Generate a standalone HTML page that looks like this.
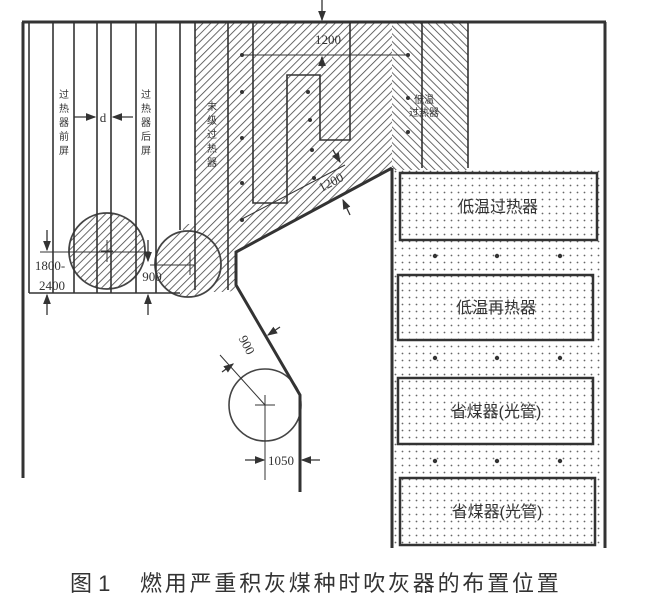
<!DOCTYPE html>
<html><head><meta charset="utf-8"><style>
html,body{margin:0;padding:0;background:#fff;}
svg{display:block;}
text{font-family:"Liberation Serif","Noto Sans CJK SC",serif;fill:#333;}
.cj{font-family:"Liberation Sans","Noto Sans CJK SC",sans-serif;}
</style></head><body>
<svg width="662" height="611" viewBox="0 0 662 611" xmlns="http://www.w3.org/2000/svg">
<defs>
<pattern id="h1" width="5.5" height="5.5" patternUnits="userSpaceOnUse" patternTransform="rotate(45)">
<rect width="6" height="6" fill="#fff"/><line x1="0" y1="0" x2="0" y2="6" stroke="#444" stroke-width="1.6"/></pattern>
<pattern id="h2" width="5.5" height="5.5" patternUnits="userSpaceOnUse" patternTransform="rotate(-45)">
<rect width="6" height="6" fill="#fff"/><line x1="0" y1="0" x2="0" y2="6" stroke="#444" stroke-width="1.6"/></pattern>
<pattern id="dt" width="7" height="7" patternUnits="userSpaceOnUse">
<rect width="7" height="7" fill="#fff"/><circle cx="3.5" cy="3.5" r="0.9" fill="#666"/></pattern>
<marker id="ar" markerWidth="8" markerHeight="8" refX="7" refY="4" orient="auto"><path d="M0,1 L8,4 L0,7 Z" fill="#333"/></marker>
</defs>
<path d="M195,22 L392,22 L392,168 L236,252 L236,282 Q236,292 226,292 L205,292 Q195,292 195,282 Z" fill="url(#h1)"/>
<rect x="183" y="224" width="12" height="68" fill="url(#h1)"/>
<rect x="392" y="22" width="76" height="148" fill="url(#h2)"/>
<rect x="392" y="170" width="213" height="378" fill="url(#dt)"/>
<circle cx="107" cy="251" r="38" fill="url(#h1)" stroke="#444" stroke-width="1.8"/>
<circle cx="188" cy="264" r="33" fill="url(#h1)" stroke="#444" stroke-width="1.8"/>
<circle cx="265" cy="405" r="36" fill="none" stroke="#444" stroke-width="1.6"/>
<g stroke="#333" fill="none">
<line x1="22" y1="22" x2="606" y2="22" stroke-width="3"/>
<line x1="23" y1="22" x2="23" y2="478" stroke-width="3"/>
<line x1="605" y1="22" x2="605" y2="548" stroke-width="3"/>
<line x1="392" y1="168" x2="392" y2="548" stroke-width="3"/>
<polyline points="392,168 236,252 236,285 300,395 300,492" stroke-width="3"/>
<g stroke-width="1.6">
<line x1="29" y1="22" x2="29" y2="293"/>
<line x1="53" y1="22" x2="53" y2="293"/>
<line x1="74" y1="22" x2="74" y2="293"/>
<line x1="97" y1="22" x2="97" y2="293"/>
<line x1="111" y1="22" x2="111" y2="293"/>
<line x1="136" y1="22" x2="136" y2="293"/>
<line x1="156" y1="22" x2="156" y2="293"/>
<line x1="180" y1="22" x2="180" y2="230"/>
<line x1="195" y1="22" x2="195" y2="290"/>
<line x1="29" y1="293" x2="180" y2="293"/>
<line x1="228" y1="22" x2="228" y2="290"/>
<line x1="422" y1="22" x2="422" y2="168"/>
<line x1="468" y1="22" x2="468" y2="168"/>
<polyline points="253,22 253,203 287,203 287,75 320,75 320,140 350,140 350,22"/>
</g>
<line x1="242" y1="55" x2="408" y2="55" stroke-width="1"/>
<line x1="240" y1="220" x2="345" y2="165" stroke-width="1"/>
<g stroke-width="2.5" fill="url(#dt)">
<rect x="400" y="173" width="197" height="67"/>
<rect x="398" y="275" width="195" height="65"/>
<rect x="398" y="378" width="195" height="66"/>
<rect x="400" y="478" width="195" height="67"/>
</g>
<g stroke-width="1">
<line x1="40" y1="252" x2="150" y2="252"/>
<line x1="150" y1="265" x2="195" y2="265"/>
<line x1="107" y1="240" x2="107" y2="262"/><line x1="101" y1="251" x2="113" y2="251"/>
<line x1="190" y1="253" x2="190" y2="275"/>
<line x1="220" y1="355" x2="265" y2="405"/>
<line x1="255" y1="405" x2="275" y2="405"/><line x1="265" y1="395" x2="265" y2="480"/>
</g>
<g stroke-width="1.3" marker-end="url(#ar)">
<line x1="322" y1="0" x2="322" y2="20"/>
<line x1="74" y1="117" x2="95" y2="117"/>
<line x1="133" y1="117" x2="113" y2="117"/>
<line x1="47" y1="230" x2="47" y2="250"/>
<line x1="47" y1="315" x2="47" y2="295"/>
<line x1="148" y1="240" x2="148" y2="261"/>
<line x1="148" y1="315" x2="148" y2="295"/>
<line x1="322" y1="68" x2="322" y2="57"/>
<line x1="333" y1="150" x2="340" y2="162"/>
<line x1="350" y1="215" x2="343" y2="200"/>
<line x1="280" y1="327" x2="268" y2="335"/>
<line x1="222" y1="372" x2="233" y2="364"/>
<line x1="245" y1="460" x2="264" y2="460"/>
<line x1="320" y1="460" x2="302" y2="460"/>
</g>
</g>
<g fill="#333">
<circle cx="242" cy="55" r="2"/><circle cx="408" cy="55" r="2"/>
<circle cx="242" cy="92" r="2"/><circle cx="242" cy="138" r="2"/><circle cx="242" cy="183" r="2"/><circle cx="242" cy="220" r="2"/>
<circle cx="308" cy="92" r="2"/><circle cx="310" cy="120" r="2"/><circle cx="312" cy="150" r="2"/><circle cx="314" cy="178" r="2"/>
<circle cx="408" cy="98" r="2"/><circle cx="408" cy="132" r="2"/>
<circle cx="435" cy="256" r="2.2"/><circle cx="497" cy="256" r="2.2"/><circle cx="560" cy="256" r="2.2"/>
<circle cx="435" cy="358" r="2.2"/><circle cx="497" cy="358" r="2.2"/><circle cx="560" cy="358" r="2.2"/>
<circle cx="435" cy="461" r="2.2"/><circle cx="497" cy="461" r="2.2"/><circle cx="560" cy="461" r="2.2"/>
</g>
<g font-size="10" class="cj" text-anchor="middle">
<text x="64" y="98" class="cj">过</text><text x="64" y="112" class="cj">热</text><text x="64" y="126" class="cj">器</text><text x="64" y="140" class="cj">前</text><text x="64" y="154" class="cj">屏</text>
<text x="146" y="98" class="cj">过</text><text x="146" y="112" class="cj">热</text><text x="146" y="126" class="cj">器</text><text x="146" y="140" class="cj">后</text><text x="146" y="154" class="cj">屏</text>
<text x="212" y="110" class="cj">末</text><text x="212" y="124" class="cj">级</text><text x="212" y="138" class="cj">过</text><text x="212" y="152" class="cj">热</text><text x="212" y="166" class="cj">器</text>
<text x="424" y="103" class="cj">低温</text><text x="424" y="116" class="cj">过热器</text>
</g>
<g font-size="13" text-anchor="middle">
<text x="103" y="122">d</text>
<text x="328" y="44">1200</text>
<text x="333" y="186" transform="rotate(-28 333 186)">1200</text>
<text x="50" y="270">1800-</text>
<text x="52" y="290">2400</text>
<text x="152" y="281">900</text>
<text x="243" y="347" transform="rotate(62 243 347)">900</text>
<text x="281" y="465">1050</text>
</g>
<g font-size="16" class="cj" text-anchor="middle">
<text x="498" y="212" class="cj">低温过热器</text>
<text x="496" y="313" class="cj">低温再热器</text>
<text x="496" y="417" class="cj">省煤器(光管)</text>
<text x="497" y="517" class="cj">省煤器(光管)</text>
</g>
<text x="70" y="591" font-size="22" class="cj" fill="#444">图 1</text>
<text x="140" y="591" font-size="22" class="cj" fill="#444" letter-spacing="2.8">燃用严重积灰煤种时吹灰器的布置位置</text>
</svg>
</body></html>
